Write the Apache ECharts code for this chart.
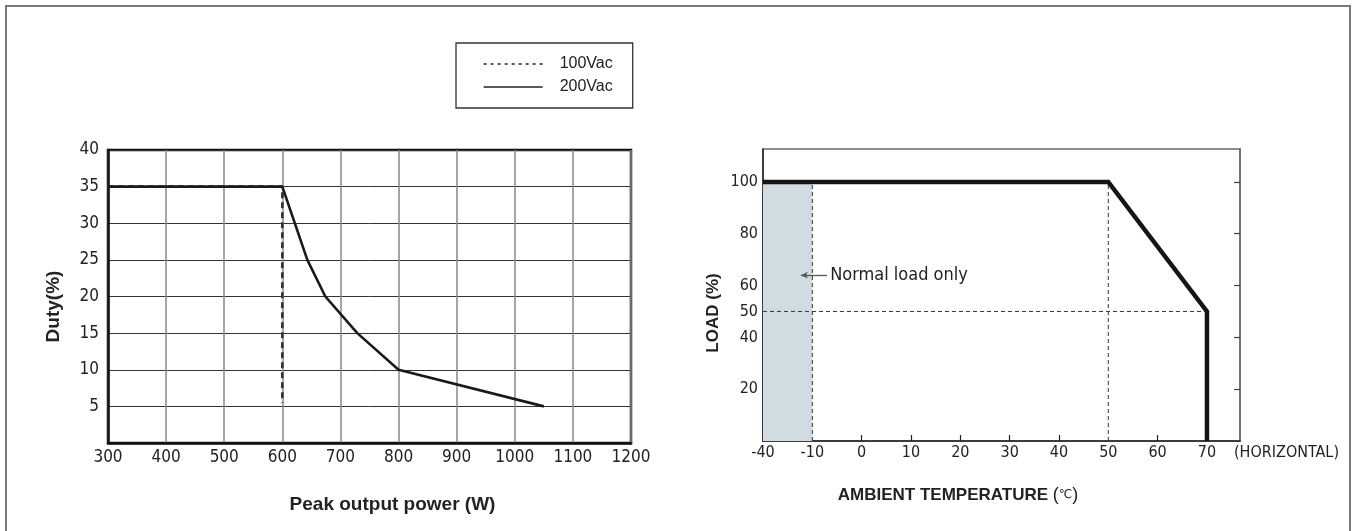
<!DOCTYPE html>
<html>
<head>
<meta charset="utf-8">
<script src="https://cdn.jsdelivr.net/npm/echarts@6/dist/echarts.min.js"></script>
<style>
html,body{margin:0;padding:0;background:#fff;}
#c{width:1352px;height:531px;}
</style>
</head>
<body>
<div id="c"></div>
<script>
// ---------- Left chart data: Duty vs peak output power ----------
const powerTicks = [300, 400, 500, 600, 700, 800, 900, 1000, 1100, 1200];
const dutyTicks = [5, 10, 15, 20, 25, 30, 35, 40];
const power200 = [300, 600, 643, 674, 729, 800, 1050];
const duty200  = [35, 35, 25, 20, 15, 10, 5];
const power100 = [300, 600, 600];
const duty100  = [35, 35, 5.5];

// ---------- Right chart data: derating curve ----------
const tempTicks = [-40, -10, 0, 10, 20, 30, 40, 50, 60, 70];
const tempInnerTicks = [0, 10, 20, 30, 40, 60];
const loadLabelTicks = [20, 40, 50, 60, 80, 100];
const loadTickMarks = [20, 40, 60, 80];
const loadRightTicks = [20, 40, 60, 80, 100];
const derateTemp = [-40, 50, 70, 70];
const derateLoad = [100, 100, 50, 0];
const shadeTemp = [-40, -10];
const shadeLoad = [0, 100];
const guideV1Temp = [-10, -10], guideV1Load = [0, 100];
const guideV2Temp = [50, 50],  guideV2Load = [0, 100];
const guideHTemp = [-40, 70],  guideHLoad = [50, 50];
const noteTemp = [-17, -7];
const noteLoad = 64;
const noteText = 'Normal load only';

// the temperature axis is compressed between -40 and -10
function toAxis(t){ return t < -10 ? -10 + (t + 10) / 3 : t; }
function fromAxis(a){ return a < -10 ? -10 + (a + 10) * 3 : a; }

const NARROW = "'Liberation Sans Narrow','Arial Narrow','DejaVu Sans Condensed',sans-serif";
const SANS = "'Liberation Sans',Arial,sans-serif";
const pair = (xs, ys) => xs.map((x, i) => [x, ys[i]]);
const pairT = (xs, ys) => xs.map((x, i) => [toAxis(x), ys[i]]);

const chart = echarts.init(document.getElementById('c'), null, {renderer: 'canvas'});

const option = {
  animation: false,
  backgroundColor: '#fff',
  graphic: [{
    type: 'rect', shape: {x: 6, y: 6, width: 1344, height: 540},
    style: {fill: 'none', stroke: '#7a7a7a', lineWidth: 2}, silent: true, z: -10
  }],
  legend: {
    show: true, orient: 'vertical', left: 456, top: 43,
    padding: [13, 20, 13, 27], itemGap: 7, itemWidth: 59, itemHeight: 14,
    borderColor: '#333', borderWidth: 1.3, backgroundColor: '#fff',
    selectedMode: false,
    textStyle: {fontFamily: SANS, fontSize: 16, color: '#222', padding: [0, 0, 0, 12]},
    data: [
      {name: '100Vac', itemStyle: {opacity: 0}, lineStyle: {type: [3, 4], width: 1.3, color: '#222'}},
      {name: '200Vac', itemStyle: {opacity: 0}, lineStyle: {type: 'solid', width: 1.3, color: '#222'}}
    ]
  },
  grid: [
    {left: 108, top: 150, width: 523, height: 293, show: true, borderColor: '#111', borderWidth: 2.5, backgroundColor: 'transparent'},
    {left: 763, top: 149, width: 477, height: 292, show: true, borderColor: '#6a6a6a', borderWidth: 1.5, backgroundColor: 'transparent'}
  ],
  xAxis: [
    {
      gridIndex: 0, type: 'value', min: 300, max: 1200, interval: 100,
      axisLine: {show: true, onZero: false, lineStyle: {color: '#111', width: 2.5}},
      axisTick: {show: false},
      splitLine: {show: true, lineStyle: {color: '#888', width: 1.5}},
      axisLabel: {fontFamily: NARROW, fontSize: 17, color: '#222', margin: 6,
        customValues: powerTicks, formatter: v => String(v)},
      name: 'Peak output power (W)', nameLocation: 'middle', nameGap: 52,
      nameTextStyle: {fontFamily: SANS, fontWeight: 'bold', fontSize: 19, color: '#222', padding: [0, 0, 0, 46]}
    },
    {
      gridIndex: 1, type: 'value', min: -20, max: 76.7, position: 'bottom',
      axisLine: {show: true, onZero: false, lineStyle: {color: '#222', width: 1.5}},
      axisTick: {show: true, inside: true, length: 6, lineStyle: {color: '#222', width: 1.2},
        customValues: tempInnerTicks.map(toAxis)},
      splitLine: {show: false},
      axisLabel: {fontFamily: NARROW, fontSize: 16, color: '#222', margin: 4,
        customValues: tempTicks.map(toAxis), formatter: v => String(Math.round(fromAxis(v)))},
      name: '(HORIZONTAL)', nameLocation: 'end', nameGap: -6,
      nameTextStyle: {fontFamily: NARROW, fontSize: 16, color: '#222', align: 'left', verticalAlign: 'top', padding: [4, 0, 0, 0]}
    },
    {
      gridIndex: 1, type: 'value', min: -20, max: 76.7, position: 'bottom', offset: 0,
      axisLine: {show: false, onZero: false}, axisTick: {show: false}, axisLabel: {show: false}, splitLine: {show: false},
      name: '{b|AMBIENT TEMPERATURE }{p|(}{u|℃}{p|)}', nameLocation: 'middle', nameGap: 45,
      nameTextStyle: {
        padding: [0, 87, 0, 0],
        rich: {
          b: {fontFamily: SANS, fontWeight: 'bold', fontSize: 17, color: '#222'},
          p: {fontFamily: SANS, fontSize: 18, color: '#222'},
          u: {fontFamily: "'DejaVu Sans',sans-serif", fontSize: 12, color: '#222'}
        }
      }
    }
  ],
  yAxis: [
    {
      gridIndex: 0, type: 'value', min: 0, max: 40, interval: 5,
      axisLine: {show: true, onZero: false, lineStyle: {color: '#111', width: 2.5}},
      axisTick: {show: false},
      splitLine: {show: true, lineStyle: {color: '#333', width: 1}},
      axisLabel: {fontFamily: NARROW, fontSize: 17, color: '#222', margin: 9,
        customValues: dutyTicks, formatter: v => String(v)},
      name: 'Duty(%)', nameLocation: 'middle', nameGap: 45, nameRotate: 90,
      nameTextStyle: {fontFamily: SANS, fontWeight: 'bold', fontSize: 19, color: '#222', padding: [0, 20, 0, 0]}
    },
    {
      gridIndex: 1, type: 'value', min: 0, max: 112.7,
      axisLine: {show: true, onZero: false, lineStyle: {color: '#222', width: 1.5}},
      axisTick: {show: true, inside: true, length: 6, lineStyle: {color: '#222', width: 1.2},
        customValues: loadTickMarks},
      splitLine: {show: false},
      axisLabel: {fontFamily: NARROW, fontSize: 16, color: '#222', margin: 5,
        customValues: loadLabelTicks, formatter: v => String(v)},
      name: 'LOAD (%)', nameLocation: 'middle', nameGap: 41, nameRotate: 90,
      nameTextStyle: {fontFamily: SANS, fontWeight: 'bold', fontSize: 17, color: '#222', padding: [0, 36, 0, 0]}
    },
    {
      gridIndex: 1, type: 'value', min: 0, max: 112.7, position: 'right',
      axisLine: {show: true, onZero: false, lineStyle: {color: '#6a6a6a', width: 1.5}},
      axisTick: {show: true, inside: true, length: 6, lineStyle: {color: '#444', width: 1.2},
        customValues: loadRightTicks},
      splitLine: {show: false},
      axisLabel: {show: false}
    }
  ],
  series: [
    {
      name: '100Vac', type: 'line', xAxisIndex: 0, yAxisIndex: 0, symbol: 'none', z: 3,
      itemStyle: {color: '#333'},
      lineStyle: {color: '#333', width: 2.6, type: [6, 4]},
      data: pair(power100, duty100)
    },
    {
      name: '200Vac', type: 'line', xAxisIndex: 0, yAxisIndex: 0, symbol: 'none', z: 4,
      itemStyle: {color: '#1a1a1a'},
      lineStyle: {color: '#1a1a1a', width: 2.6},
      data: pair(power200, duty200)
    },
    {
      name: 'shade', type: 'line', xAxisIndex: 1, yAxisIndex: 1, symbol: 'none', z: 1,
      lineStyle: {width: 0}, data: [],
      markArea: {silent: true, itemStyle: {color: '#d1dce2'},
        data: [[{coord: [toAxis(shadeTemp[0]), shadeLoad[0]]}, {coord: [toAxis(shadeTemp[1]), shadeLoad[1]]}]]}
    },
    {
      name: 'g1', type: 'line', xAxisIndex: 1, yAxisIndex: 1, symbol: 'none', z: 2,
      lineStyle: {color: '#333', width: 1, type: [4, 3]}, data: pairT(guideV1Temp, guideV1Load)
    },
    {
      name: 'g2', type: 'line', xAxisIndex: 1, yAxisIndex: 1, symbol: 'none', z: 2,
      lineStyle: {color: '#333', width: 1, type: [4, 3]}, data: pairT(guideV2Temp, guideV2Load)
    },
    {
      name: 'g3', type: 'line', xAxisIndex: 1, yAxisIndex: 1, symbol: 'none', z: 2,
      lineStyle: {color: '#333', width: 1, type: [4, 3]}, data: pairT(guideHTemp, guideHLoad)
    },
    {
      name: 'derating', type: 'line', xAxisIndex: 1, yAxisIndex: 1, symbol: 'none', z: 5,
      lineStyle: {color: '#151515', width: 4.5, join: 'miter'}, data: pairT(derateTemp, derateLoad),
      markLine: {
        silent: true, symbol: ['arrow', 'none'], symbolSize: [5, 7],
        lineStyle: {color: '#555', width: 1.3, type: 'solid'},
        label: {show: true, position: 'end', distance: 3, formatter: noteText,
          fontFamily: NARROW, fontSize: 18, color: '#222'},
        data: [[{coord: [toAxis(noteTemp[0]), noteLoad]}, {coord: [toAxis(noteTemp[1]), noteLoad]}]]
      }
    }
  ]
};
chart.setOption(option);
</script>
</body>
</html>
